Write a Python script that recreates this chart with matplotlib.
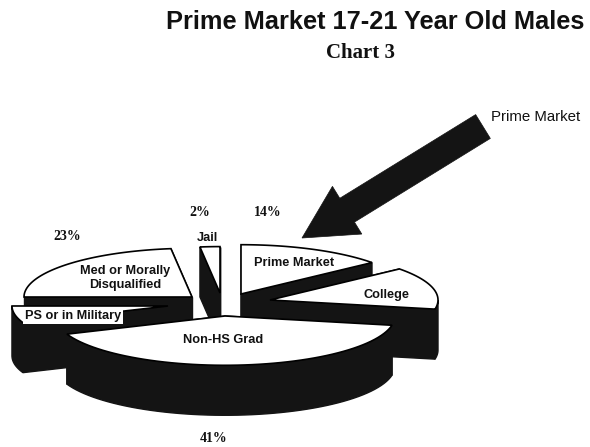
#!/usr/bin/env python3
"""Exploded 3D-style pie of the 17-21 year old male market, Chart 3."""

import numpy as np
import matplotlib

matplotlib.use("Agg")
import matplotlib.pyplot as plt
from matplotlib.patches import FancyArrow, Polygon

slice_names = ["Prime Market", "College", "Non-HS Grad", "PS or in Military",
               "Med or Morally\nDisqualified", "Jail"]
slice_shares = [14, 14, 41, 6, 23, 2]
share_labels = ["14%", "2%", "23%", "41%"]

SANS = "Liberation Sans"
SERIF = "Liberation Serif"
DARK = "#141414"
SQUASH = 0.29
DEPTH = 50

# layout in image pixels, same order as slice_names
apex_pos = [(241, 294), (270, 300), (225, 316), (168, 306), (192, 297), (220, 293)]
radius = [170, 168, 170, 156, 168, 160]
name_pos = [(294, 263), (386, 295), (223, 340), (73, 316), (125, 278), (207, 238)]
share_pos = [(268, 213), (200, 213), (67, 237), (214, 439)]
draw_order = [4, 5, 0, 1, 3, 2]


def arc_points(apex, r, a0, a1):
    # angles are degrees clockwise from 12 o'clock
    t = np.radians(np.linspace(a0, a1, 60))
    return np.column_stack([apex[0] + r * np.sin(t), apex[1] - r * SQUASH * np.cos(t)])


def dark_poly(ax, pts):
    ax.add_patch(Polygon(pts, closed=True, facecolor=DARK, edgecolor=DARK, linewidth=1))


def draw_slice(ax, apex, r, a0, a1):
    outer = arc_points(apex, r, a0, a1)
    drop = np.array([0, DEPTH])

    # radial side walls
    for end in (outer[0], outer[-1]):
        dark_poly(ax, [apex, end, end + drop, np.array(apex) + drop])

    # outer wall, only the part facing the viewer
    lo, hi = max(a0, 90), min(a1, 270)
    if lo < hi:
        front = arc_points(apex, r, lo, hi)
        dark_poly(ax, np.vstack([front, (front + drop)[::-1]]))

    top = np.vstack([[apex], outer])
    ax.add_patch(Polygon(top, closed=True, facecolor="white", edgecolor="black", linewidth=1.2))


fig = plt.figure(figsize=(5.9, 4.47), dpi=100)
ax = fig.add_axes([0, 0, 1, 1])
ax.set_xlim(0, 590)
ax.set_ylim(447, 0)
ax.axis("off")

edges = np.concatenate([[0], np.cumsum(slice_shares)]) / sum(slice_shares) * 360
for i in draw_order:
    draw_slice(ax, apex_pos[i], radius[i], edges[i], edges[i + 1])

for name, (x, y) in zip(slice_names, name_pos):
    # the PS label sits on its own white strip in the original
    box = dict(facecolor="white", edgecolor="none", pad=1.5) if name.startswith("PS") else None
    ax.text(x, y, name, family=SANS, fontweight="bold", fontsize=9.2, color="#111111",
            ha="center", va="center", linespacing=1.15, bbox=box)
for label, (x, y) in zip(share_labels, share_pos):
    ax.text(x, y, label, family=SERIF, fontweight="bold", fontsize=10, color="#111111",
            ha="center", va="center")

# callout arrow pointing at the Prime Market slice
ax.add_patch(FancyArrow(483, 126.5, -181, 111.5, width=28, head_width=56, head_length=53,
                        length_includes_head=True, facecolor=DARK, edgecolor=DARK, linewidth=0.5))
ax.text(536, 117, "Prime Market", family=SANS, fontweight="medium", fontsize=10.8,
        color="#111111", ha="center", va="center")

ax.text(375, 22, "Prime Market 17-21 Year Old Males", family=SANS, fontweight="bold",
        fontsize=18.3, color="#111111", ha="center", va="center")
ax.text(360, 53, "Chart 3", family=SERIF, fontweight="bold", fontsize=15,
        color="#111111", ha="center", va="center")

fig.savefig("out.png", dpi=100)
plt.close(fig)
